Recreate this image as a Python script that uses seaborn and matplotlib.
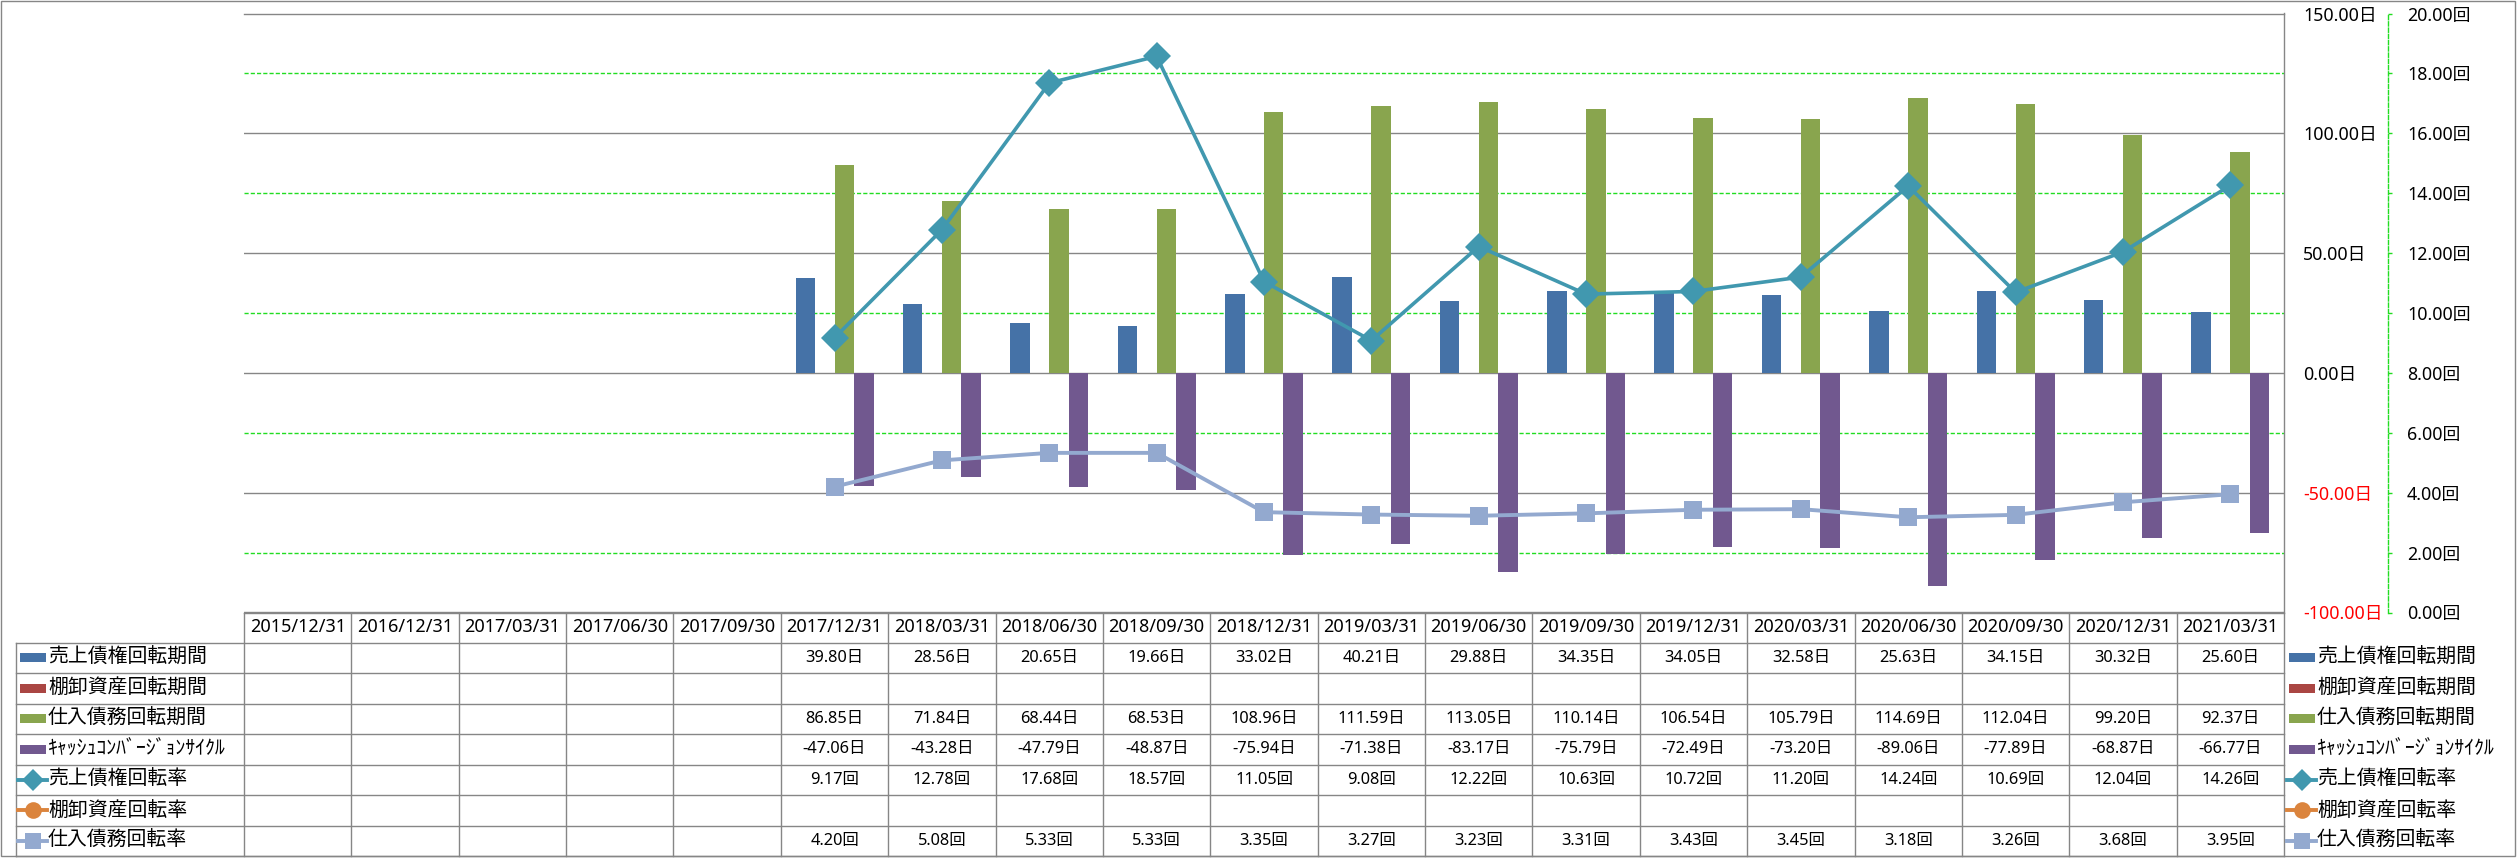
import matplotlib
matplotlib.use("Agg")
import matplotlib.pyplot as plt
from matplotlib.lines import Line2D
from matplotlib.patches import Rectangle
from matplotlib.ticker import MultipleLocator
import numpy as np
import pandas as pd
import seaborn as sns

# ---- data -------------------------------------------------------------
dates = [
    "2015/12/31", "2016/12/31", "2017/03/31", "2017/06/30", "2017/09/30",
    "2017/12/31", "2018/03/31", "2018/06/30", "2018/09/30", "2018/12/31",
    "2019/03/31", "2019/06/30", "2019/09/30", "2019/12/31", "2020/03/31",
    "2020/06/30", "2020/09/30", "2020/12/31", "2021/03/31",
]
first_with_data = 5  # values start at 2017/12/31

receivable_days = [39.80, 28.56, 20.65, 19.66, 33.02, 40.21, 29.88,
                   34.35, 34.05, 32.58, 25.63, 34.15, 30.32, 25.60]
payable_days = [86.85, 71.84, 68.44, 68.53, 108.96, 111.59, 113.05,
                110.14, 106.54, 105.79, 114.69, 112.04, 99.20, 92.37]
ccc_days = [-47.06, -43.28, -47.79, -48.87, -75.94, -71.38, -83.17,
            -75.79, -72.49, -73.20, -89.06, -77.89, -68.87, -66.77]
receivable_turnover = [9.17, 12.78, 17.68, 18.57, 11.05, 9.08, 12.22,
                       10.63, 10.72, 11.20, 14.24, 10.69, 12.04, 14.26]
payable_turnover = [4.20, 5.08, 5.33, 5.33, 3.35, 3.27, 3.23,
                    3.31, 3.43, 3.45, 3.18, 3.26, 3.68, 3.95]

names = ["売上債権回転期間", "棚卸資産回転期間", "仕入債務回転期間",
         "ｷｬｯｼｭｺﾝﾊﾞｰｼﾞｮﾝｻｲｸﾙ", "売上債権回転率", "棚卸資産回転率", "仕入債務回転率"]
colors = ["#4572A7", "#AA4643", "#89A54E", "#71588F", "#4198AF", "#DB843D", "#93A9CF"]
kinds = ["bar", "bar", "bar", "bar", "D", "o", "s"]
units = ["日", "日", "日", "日", "回", "回", "回"]
series_values = [receivable_days, None, payable_days, ccc_days,
                 receivable_turnover, None, payable_turnover]

GRAY = "#868686"
GREEN = "#22DD22"
LATIN = ["Noto Sans", "Noto Sans CJK JP"]
CJK = ["Noto Sans CJK JP", "DejaVu Sans"]

# ---- layout (pixels) --------------------------------------------------
W, H = 2517, 858
PL, PR, PT, PB = 244, 2284, 13.5, 612.5
ROW_Y = [612.5, 642.5, 673, 703.5, 734, 764.5, 795, 825.5, 856]
LEG_L = 16

fig = plt.figure(figsize=(W / 100, H / 100), dpi=100)
over = fig.add_axes([0, 0, 1, 1])
over.set_xlim(0, W)
over.set_ylim(H, 0)
over.axis("off")

ax = fig.add_axes([PL / W, 1 - PB / H, (PR - PL) / W, (PB - PT) / H])

# bars
rows = []
for name, vals in zip(names[:4], series_values[:4]):
    if vals is None:
        continue
    for d, v in zip(dates[first_with_data:], vals):
        rows.append({"date": d, "series": name, "value": v})
bar_df = pd.DataFrame(rows)

sns.barplot(data=bar_df, x="date", y="value", hue="series", order=dates,
            hue_order=names[:4], palette=dict(zip(names[:4], colors[:4])),
            width=0.726, saturation=1, errorbar=None, linewidth=0,
            legend=False, ax=ax, zorder=2)

# lines on the rate axis
ax2 = ax.twinx()
x_idx = np.arange(first_with_data, len(dates))
sns.lineplot(x=x_idx, y=receivable_turnover, ax=ax2, color=colors[4], lw=2.6,
             marker="D", markersize=14, markeredgewidth=0, zorder=4)
sns.lineplot(x=x_idx, y=payable_turnover, ax=ax2, color=colors[6], lw=2.8,
             marker="s", markersize=13.5, markeredgewidth=0, zorder=3)

# primary (days) axis
ax.set_ylim(-100, 150)
ax.yaxis.set_major_locator(MultipleLocator(50))
ax.yaxis.set_minor_locator(MultipleLocator(25))
ax.grid(which="minor", axis="y", color=GREEN, lw=1.0, ls=(0, (3, 1.5)))
ax.grid(which="major", axis="y", color=GRAY, lw=1.0)
ax.set_axisbelow(True)
ax.yaxis.tick_right()
ax.tick_params(axis="y", which="both", length=0, pad=13.7)
ax.tick_params(axis="x", length=0, labelbottom=False)
day_ticks = np.arange(-100, 151, 50)
ax.set_yticks(day_ticks)
ax.set_yticklabels([f"{t:.2f}日" for t in day_ticks])
ax.set_xlabel("")
ax.set_ylabel("")
ax.spines["left"].set_visible(False)
for s in ["top", "right", "bottom"]:
    ax.spines[s].set_color(GRAY)
    ax.spines[s].set_linewidth(1.0)

# secondary (rate) axis
ax2.set_ylim(0, 20)
rate_ticks = np.arange(0, 21, 2)
ax2.set_yticks(rate_ticks)
ax2.set_yticklabels([f"{t:.2f}回" for t in rate_ticks])
ax2.tick_params(axis="y", length=2.9, width=1, color=GREEN, pad=10.8)
ax2.set_xlabel("")
ax2.set_ylabel("")
for s in ["top", "left", "bottom"]:
    ax2.spines[s].set_visible(False)
ax2.spines["right"].set_position(("outward", 74.9))
ax2.spines["right"].set_color(GREEN)
ax2.spines["right"].set_linestyle((0, (3, 1.5)))
ax2.spines["right"].set_linewidth(1.0)
ax.set_xlim(-0.5, len(dates) - 0.5)

for lbl, t in zip(ax.get_yticklabels(), day_ticks):
    lbl.set_fontfamily(LATIN)
    lbl.set_fontsize(12.8)
    lbl.set_color("red" if t < 0 else "black")
for lbl in ax2.get_yticklabels():
    lbl.set_fontfamily(LATIN)
    lbl.set_fontsize(12.8)
    lbl.set_color("black")

# ---- data table -------------------------------------------------------
n = len(dates)
cw = (PR - PL) / n
edges = [PL + i * cw for i in range(n + 1)]
for x in edges:
    over.plot([x, x], [ROW_Y[0], ROW_Y[-1]], color=GRAY, lw=1.0)
over.plot([LEG_L, LEG_L], [ROW_Y[1], ROW_Y[-1]], color=GRAY, lw=1.0)
for y in ROW_Y[1:]:
    over.plot([LEG_L, PR], [y, y], color=GRAY, lw=1.0)

for i, d in enumerate(dates):
    over.text(edges[i] + cw / 2, (ROW_Y[0] + ROW_Y[1]) / 2, d, ha="center",
              va="center", fontsize=13, family=LATIN)


def draw_key(x0, yc, kind, color):
    if kind == "bar":
        over.add_patch(Rectangle((x0 + 2, yc - 4.5), 26, 9, color=color, lw=0))
    else:
        over.add_line(Line2D([x0, x0 + 29], [yc, yc], color=color, lw=2.8))
        ms = {"D": 11, "o": 12, "s": 12}[kind]
        over.add_line(Line2D([x0 + 14.5], [yc], marker=kind, ms=ms, color=color,
                             markeredgewidth=0, lw=0))


for r, (name, color, kind, unit, vals) in enumerate(
        zip(names, colors, kinds, units, series_values)):
    yc = (ROW_Y[r + 1] + ROW_Y[r + 2]) / 2
    draw_key(LEG_L + 2, yc, kind, color)
    over.text(LEG_L + 32, yc, name, ha="left", va="center", fontsize=14.3, family=CJK)
    # right-hand legend
    draw_key(PR + 3, yc, kind, color)
    over.text(PR + 33, yc, name, ha="left", va="center", fontsize=14.3, family=CJK)
    if vals is None:
        continue
    for j, v in enumerate(vals):
        col = first_with_data + j
        over.text(edges[col] + cw / 2, yc, f"{v:.2f}{unit}", ha="center",
                  va="center", fontsize=11.8, family=LATIN)

# chart area border
over.add_patch(Rectangle((1, 1), W - 3, H - 3, fill=False, edgecolor=GRAY, lw=1.0))

fig.savefig("out.png", dpi=100)
